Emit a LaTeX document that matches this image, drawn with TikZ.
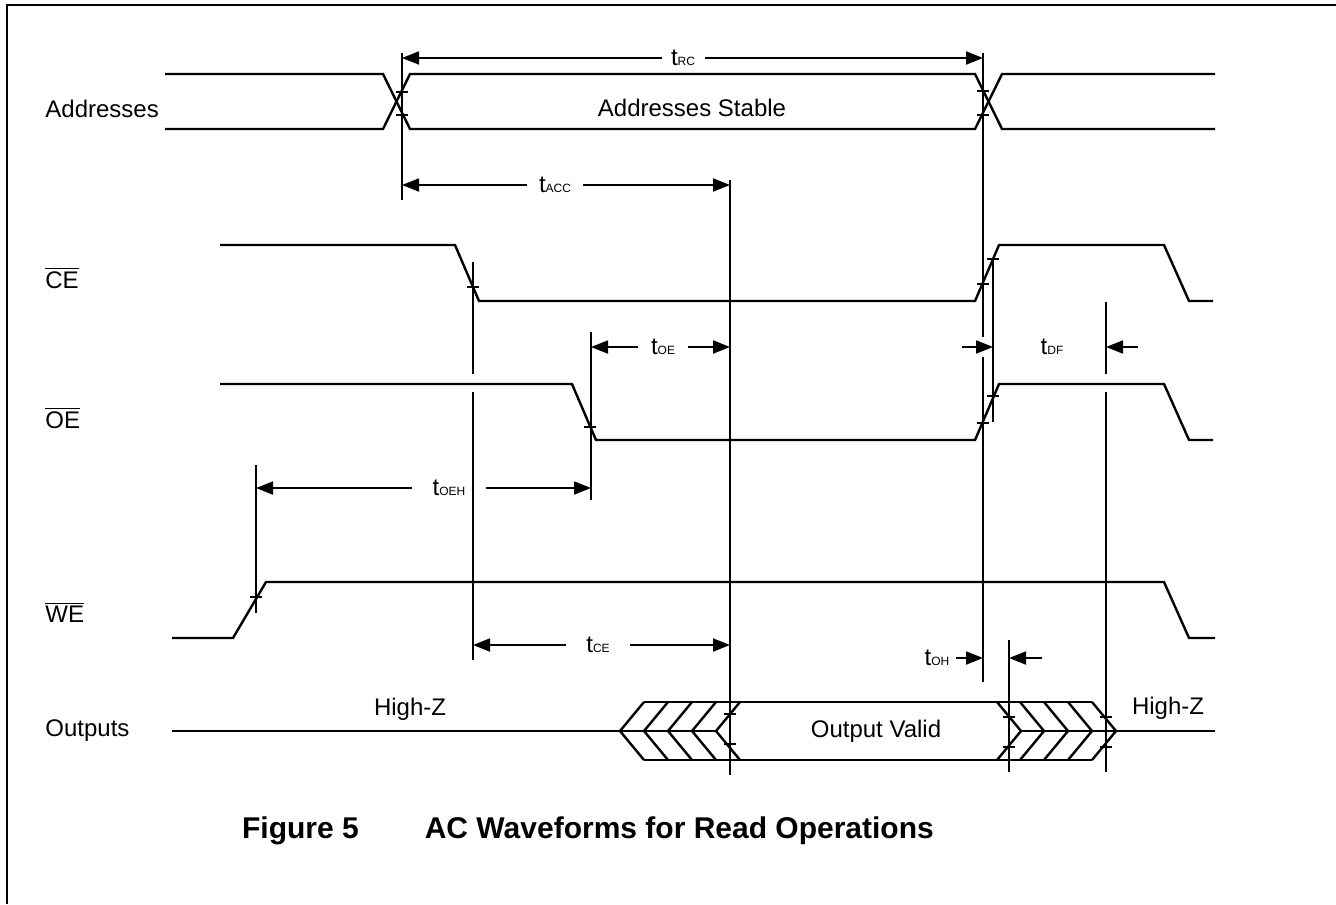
\documentclass[tikz,border=0pt]{standalone}
\usepackage{fontspec}
\setmainfont{Liberation Sans}
\usetikzlibrary{arrows.meta}
\newcommand\tsub[1]{t{\fontsize{6}{7}\selectfont #1}}
\newcommand\tickat[2]{\draw[tick] (#1,#2) ++(-6,0) -- ++(12,0);}
\begin{document}
\begin{tikzpicture}[x=0.5pt,y=-0.5pt,
	wave/.style={ line width=1.2pt, line join=miter },
	refline/.style={ line width=0.9pt },
	tick/.style={ line width=0.8pt },
	dim/.style={ line width=0.9pt, -{Triangle[length=8.5pt,width=6.5pt]} },
	lbl/.style={ font=\fontsize{12}{14}\selectfont, inner sep=0pt },
	sig/.style={ lbl, anchor=west }
]
\useasboundingbox (0,0) rectangle (1336,904);
\draw[line width=1pt] (7,904) -- (7,5) -- (1336,5);

% signal names
\node[sig] (addr) at (45,109) {Addresses};
\node[sig] (ce) at (45,278) {$\overline{\hbox{CE}}$};
\node[sig] (oe) at (45,418) {$\overline{\hbox{OE}}$};
\node[sig] (we) at (45,612) {$\overline{\hbox{WE}}$};
\node[sig] (outs) at (45,731) {Outputs};

% waveforms
\draw[wave] (165,74) -- (383,74) -- (410,129) -- (975,129) -- (1002,74) -- (1215,74);
\draw[wave] (165,129) -- (383,129) -- (410,74) -- (975,74) -- (1002,129) -- (1215,129);
\node[lbl] (stable) at (692,108) {Addresses Stable};
\draw[wave] (220,245) -- (455,245) -- (479,301) -- (975,301) -- (999,245)
  -- (1164,245) -- (1189,301) -- (1213,301);
\draw[wave] (220,384) -- (572,384) -- (596,440) -- (975,440) -- (999,384)
  -- (1164,384) -- (1189,440) -- (1213,440);
\draw[wave] (172,638) -- (233,638) -- (266,582) -- (1164,582) -- (1189,638) -- (1215,638);

% outputs bus
\draw[wave] (172,731) -- (717,731);
\draw[wave] (1020,731) -- (1215,731);
\draw[wave] (644,702) -- (1092,702);
\draw[wave] (644,760) -- (1092,760);
\draw[wave] (644,702) -- (620,731) -- (644,760);
\foreach \x in {668,692,716,740}
  \draw[wave] (\x,702) -- (\x-24,731) -- (\x,760);
\foreach \x in {997,1020,1044,1068,1092}
  \draw[wave] (\x,702) -- (\x+24,731) -- (\x,760);
\node[lbl] (hz1) at (410,709) {High-Z};
\node[lbl] (hz2) at (1168,708) {High-Z};
\node[lbl] (valid) at (876,731) {Output Valid};

% reference lines
\draw[refline] (402,53) -- (402,200);
\draw[refline] (983,53) -- (983,337) (983,357) -- (983,682);
\draw[refline] (993,258) -- (993,422);
\draw[refline] (473,262) -- (473,374) (473,392) -- (473,660);
\draw[refline] (591,332) -- (591,500);
\draw[refline] (730,180) -- (730,775);
\draw[refline] (256,465) -- (256,613);
\draw[refline] (1009,640) -- (1009,772);
\draw[refline] (1106,302) -- (1106,374) (1106,392) -- (1106,772);

% crossing ticks
\tickat{402}{92} \tickat{402}{115} \tickat{983}{91} \tickat{983}{115}
\tickat{473}{287} \tickat{983}{284} \tickat{993}{259}
\tickat{590}{427} \tickat{983}{423} \tickat{993}{396}
\tickat{256}{597}
\tickat{730}{714} \tickat{730}{744}
\tickat{1009}{717} \tickat{1009}{747}
\tickat{1106}{717} \tickat{1106}{747}

% timing parameters
\node[lbl] (trc) at (683,58) {\tsub{RC}};
\draw[dim] (662,58) -- (402,58);
\draw[dim] (705,58) -- (983,58);
\node[lbl] (tacc) at (555,185) {\tsub{ACC}};
\draw[dim] (527,185) -- (402,185);
\draw[dim] (583,185) -- (730,185);
\node[lbl] (toe) at (663,347) {\tsub{OE}};
\draw[dim] (638,347) -- (591,347);
\draw[dim] (688,347) -- (730,347);
\node[lbl] (tdf) at (1052,347) {\tsub{DF}};
\draw[dim] (962,347) -- (993,347);
\draw[dim] (1138,347) -- (1106,347);
\node[lbl] (toeh) at (449,488) {\tsub{OEH}};
\draw[dim] (412,488) -- (256,488);
\draw[dim] (486,488) -- (591,488);
\node[lbl] (tce) at (598,645) {\tsub{CE}};
\draw[dim] (566,645) -- (473,645);
\draw[dim] (630,645) -- (730,645);
\node[lbl] (toh) at (937,658) {\tsub{OH}};
\draw[dim] (956,658) -- (983,658);
\draw[dim] (1042,658) -- (1009,658);

\node[lbl, font=\fontsize{15}{18}\selectfont\bfseries] (cap) at (588,831) {Figure 5\hspace{2.2em}AC Waveforms for Read Operations};
\end{tikzpicture}
\end{document}
